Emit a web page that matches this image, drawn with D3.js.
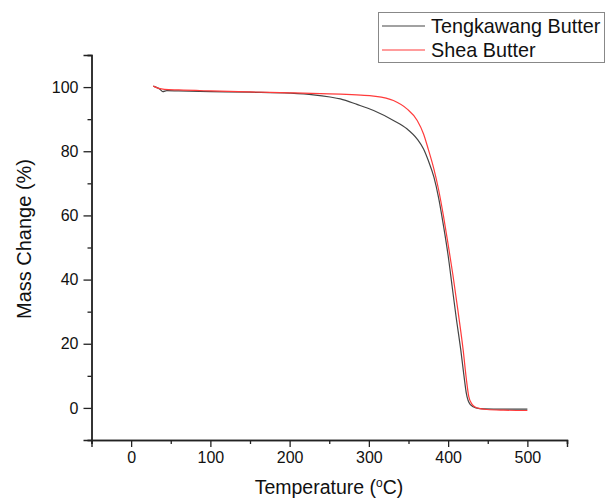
<!DOCTYPE html>
<html><head><meta charset="utf-8">
<script src="https://cdn.jsdelivr.net/npm/d3@7"></script>
<style>body{margin:0;background:#fff}svg{display:block}text{font-family:"Liberation Sans",Arial,sans-serif;fill:#111}</style>
</head><body>
<svg id="c" width="606" height="501"></svg>
<script>
const seriesNames = ["Tengkawang Butter", "Shea Butter"];
const seriesColors = ["#444444", "#ff3b3b"];
const tengkawangT = [28, 32, 36, 40, 45, 60, 100, 150, 200, 230, 251, 264, 285, 306, 331, 348, 361, 369, 375, 382, 388, 394, 400, 405, 410, 416, 420, 423, 428, 435, 445, 470, 500];
const tengkawangY = [100.3, 99.9, 99.4, 98.6, 98.9, 98.8, 98.6, 98.4, 98.1, 97.6, 96.9, 96.3, 94.6, 92.7, 89.6, 87.0, 83.8, 80.7, 77.1, 72.0, 65.5, 57, 47.5, 38, 28.5, 18, 10, 4.5, 1.0, 0.0, -0.3, -0.4, -0.4];
const sheaT = [28, 35, 42, 60, 100, 150, 200, 250, 264, 290, 306, 331, 348, 361, 369, 375, 382, 388, 394, 400, 406, 412, 419, 423, 426, 430, 434, 442, 449, 470, 500];
const sheaY = [100.3, 99.6, 99.3, 99.1, 98.8, 98.5, 98.2, 97.9, 97.8, 97.5, 97.2, 95.8, 93.2, 89.6, 85.4, 80.6, 74.5, 68, 60, 51, 41.5, 31, 18, 9, 3.6, 1.2, 0.3, -0.3, -0.5, -0.7, -0.8];
const xTicks = [0, 100, 200, 300, 400, 500];
const xMinor = [-50, 50, 150, 250, 350, 450, 550];
const yTicks = [0, 20, 40, 60, 80, 100];
const yMinor = [-10, 10, 30, 50, 70, 90, 110];

const svg = d3.select("#c");
const x = d3.scaleLinear().domain([-50, 550]).range([91.5, 567]);
const y = d3.scaleLinear().domain([-10, 110]).range([440, 55]);

const axCol = "#222";
const gx = svg.append("g").attr("transform", `translate(0,${y(-10)})`);
gx.call(d3.axisBottom(x).tickValues(xTicks).tickSize(7).tickPadding(5).tickFormat(d3.format("d")));
gx.append("g").call(d3.axisBottom(x).tickValues(xMinor).tickSize(4).tickFormat(""));
const gy = svg.append("g").attr("transform", `translate(${x(-50)},0)`);
gy.call(d3.axisLeft(y).tickValues(yTicks).tickSize(8).tickPadding(5).tickFormat(d3.format("d")));
gy.append("g").call(d3.axisLeft(y).tickValues(yMinor).tickSize(4).tickFormat(""));
svg.selectAll(".domain").attr("stroke", axCol).attr("stroke-width", 1.4);
svg.selectAll(".tick line").attr("stroke", axCol).attr("stroke-width", 1.3);
svg.selectAll("g").attr("font-family", null).attr("font-size", null);
svg.selectAll(".tick text").attr("font-size", 16).attr("fill", "#111");

const line = d3.line().x(d => x(d[0])).y(d => y(d[1])).curve(d3.curveMonotoneX);
const data = [d3.zip(tengkawangT, tengkawangY), d3.zip(sheaT, sheaY)];
data.forEach((d, i) => {
  svg.append("path").datum(d).attr("d", line).attr("fill", "none")
    .attr("stroke", seriesColors[i]).attr("stroke-width", 1.2);
});

svg.append("text").attr("transform", "translate(31,239) rotate(-90)")
  .attr("text-anchor", "middle").attr("font-size", 20).text("Mass Change (%)");
const xt = svg.append("text").attr("x", 329).attr("y", 494).attr("text-anchor", "middle").attr("font-size", 19.5);
xt.append("tspan").text("Temperature (");
xt.append("tspan").attr("font-size", 12).attr("dy", -7).text("o");
xt.append("tspan").attr("dy", 7).text("C)");

svg.append("rect").attr("x", 378.5).attr("y", 12.5).attr("width", 226).attr("height", 50)
  .attr("fill", "#fff").attr("stroke", "#888").attr("stroke-width", 1);
seriesNames.forEach((n, i) => {
  const yy = 26 + i * 24;
  svg.append("line").attr("x1", 382).attr("x2", 425).attr("y1", yy).attr("y2", yy)
    .attr("stroke", seriesColors[i]).attr("stroke-width", 1.2);
  svg.append("text").attr("x", 431).attr("y", yy + 6.5).attr("font-size", 19.8).text(n);
});
</script>
</body></html>
